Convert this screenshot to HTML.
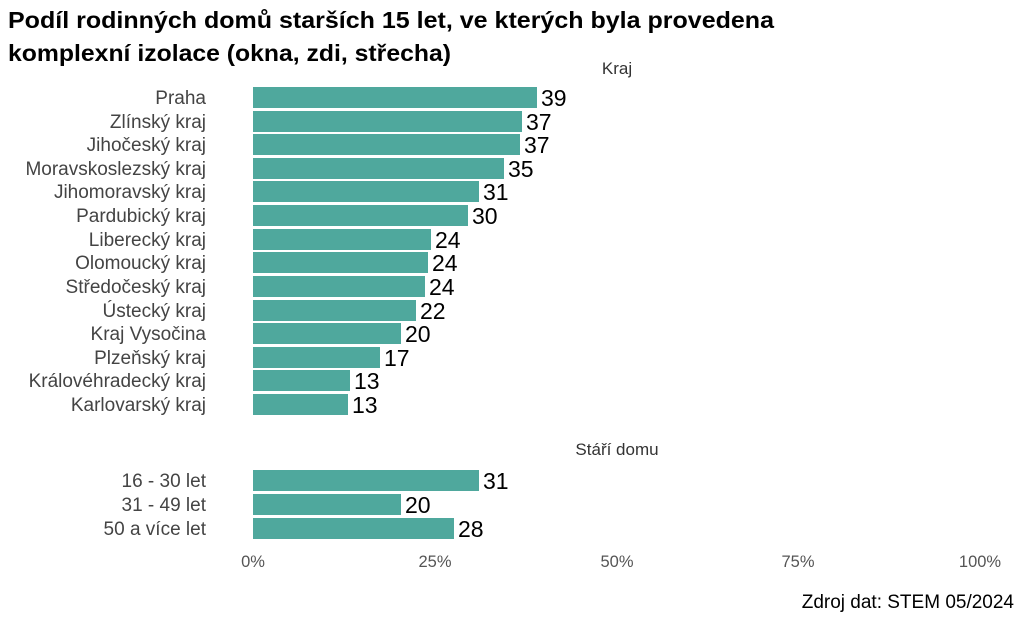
<!DOCTYPE html>
<html><head><meta charset="utf-8"><style>
body{margin:0;background:#fff;width:1024px;height:617px;overflow:hidden;font-family:"Liberation Sans",sans-serif}
</style></head><body>
<svg width="1024" height="617" xmlns="http://www.w3.org/2000/svg" font-family="Liberation Sans, sans-serif">
<text x="8" y="28" font-size="23" font-weight="bold" fill="#000" textLength="766" lengthAdjust="spacingAndGlyphs">Podíl rodinných domů starších 15 let, ve kterých byla provedena</text>
<text x="8" y="61" font-size="23" font-weight="bold" fill="#000" textLength="443" lengthAdjust="spacingAndGlyphs">komplexní izolace (okna, zdi, střecha)</text>
<text x="617" y="74" font-size="17" fill="#333" text-anchor="middle">Kraj</text>
<text x="617" y="455" font-size="17" fill="#333" text-anchor="middle">Stáří domu</text>
<g font-size="19" fill="#444" text-anchor="end">
<text x="206" y="104">Praha</text>
<text x="206" y="128">Zlínský kraj</text>
<text x="206" y="151">Jihočeský kraj</text>
<text x="206" y="175">Moravskoslezský kraj</text>
<text x="206" y="198">Jihomoravský kraj</text>
<text x="206" y="222">Pardubický kraj</text>
<text x="206" y="246">Liberecký kraj</text>
<text x="206" y="269">Olomoucký kraj</text>
<text x="206" y="293">Středočeský kraj</text>
<text x="206" y="317">Ústecký kraj</text>
<text x="206" y="340">Kraj Vysočina</text>
<text x="206" y="364">Plzeňský kraj</text>
<text x="206" y="387">Královéhradecký kraj</text>
<text x="206" y="411">Karlovarský kraj</text>
<text x="206" y="487">16 - 30 let</text>
<text x="206" y="511">31 - 49 let</text>
<text x="206" y="535">50 a více let</text>
</g>
<g fill="#4fa89d">
<rect x="253" y="87" width="284" height="21"/>
<rect x="253" y="111" width="269" height="21"/>
<rect x="253" y="134" width="267" height="21"/>
<rect x="253" y="158" width="251" height="21"/>
<rect x="253" y="181" width="226" height="21"/>
<rect x="253" y="205" width="215" height="21"/>
<rect x="253" y="229" width="178" height="21"/>
<rect x="253" y="252" width="175" height="21"/>
<rect x="253" y="276" width="172" height="21"/>
<rect x="253" y="300" width="163" height="21"/>
<rect x="253" y="323" width="148" height="21"/>
<rect x="253" y="347" width="127" height="21"/>
<rect x="253" y="370" width="97" height="21"/>
<rect x="253" y="394" width="95" height="21"/>
<rect x="253" y="470" width="226" height="21"/>
<rect x="253" y="494" width="148" height="21"/>
<rect x="253" y="518" width="201" height="21"/>
</g>
<g font-size="23" fill="#000">
<text x="541" y="106">39</text>
<text x="526" y="130">37</text>
<text x="524" y="153">37</text>
<text x="508" y="177">35</text>
<text x="483" y="200">31</text>
<text x="472" y="224">30</text>
<text x="435" y="248">24</text>
<text x="432" y="271">24</text>
<text x="429" y="295">24</text>
<text x="420" y="319">22</text>
<text x="405" y="342">20</text>
<text x="384" y="366">17</text>
<text x="354" y="389">13</text>
<text x="352" y="413">13</text>
<text x="483" y="489">31</text>
<text x="405" y="513">20</text>
<text x="458" y="537">28</text>
</g>
<g font-size="16.5" fill="#555" text-anchor="middle">
<text x="253" y="567">0%</text>
<text x="435" y="567">25%</text>
<text x="617" y="567">50%</text>
<text x="798" y="567">75%</text>
<text x="980" y="567">100%</text>
</g>
<text x="1014" y="608" font-size="19" fill="#000" text-anchor="end">Zdroj dat: STEM 05/2024</text>
</svg>
</body></html>
